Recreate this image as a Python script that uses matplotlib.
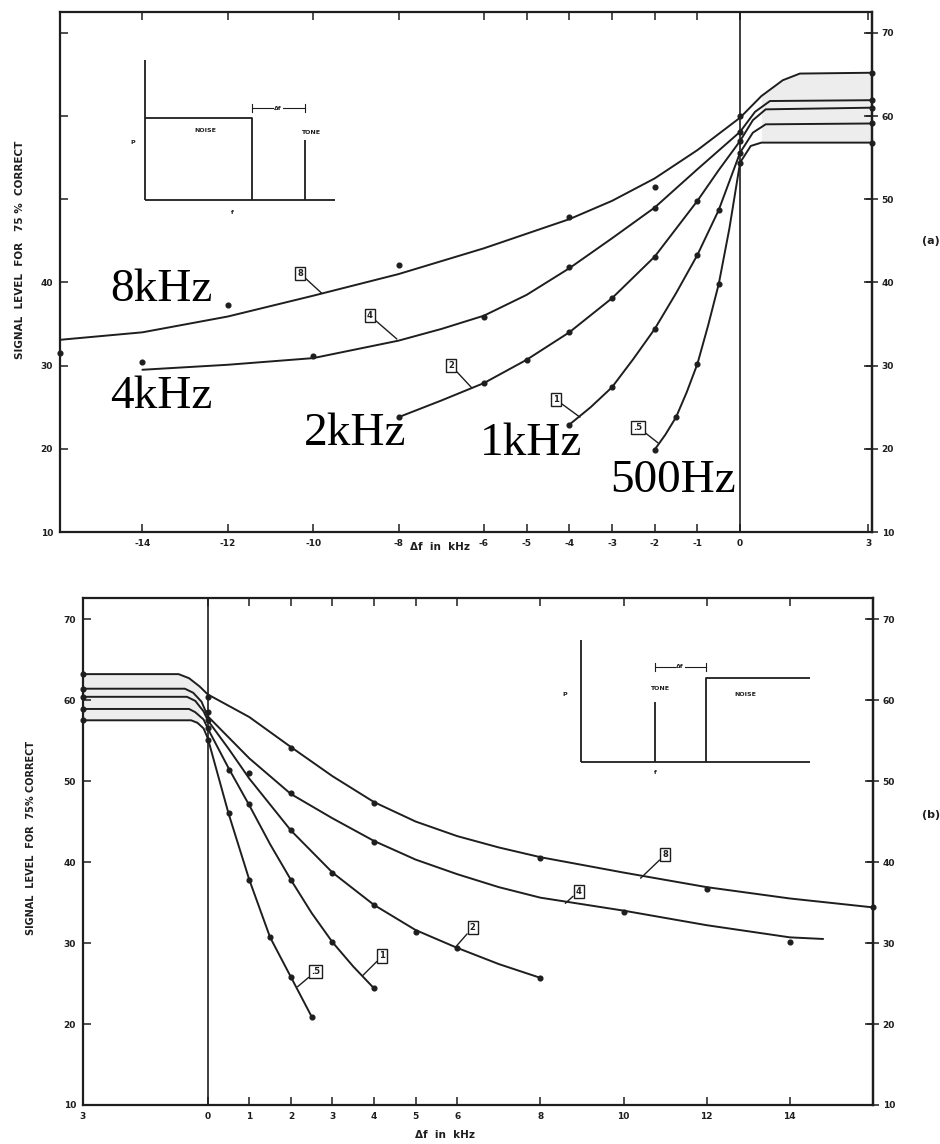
import numpy as np
import matplotlib
matplotlib.use('Agg')
import matplotlib.pyplot as plt

# ---------------- DATA ----------------
# Panel (a): tone below noise (negative delta f)
a_xlim = (-15.93, 3.09)
a_ylim = (10, 72.5)
a_xticks = [-14, -12, -10, -8, -6, -5, -4, -3, -2, -1, 0, 3]
a_xticklabels = ['-14', '-12', '-10', '-8', '-6', '-5', '-4', '-3', '-2', '-1', '0', '3']
a_yticks = [10, 20, 30, 40, 50, 60, 70]
a_left_labels = ['10', '20', '30', '40', '', '', '']
a_right_labels = ['10', '20', '30', '40', '50', '60', '70']

# fitted curves
a8_cx = [-15.93, -14, -12, -10, -8, -6, -4, -3, -2, -1, 0, 0.5, 1.0, 1.4, 3.09]
a8_cy = [33.1, 34.0, 35.9, 38.4, 41.0, 44.1, 47.6, 49.8, 52.5, 55.9, 59.8, 62.4, 64.3, 65.1, 65.2]
a4_cx = [-14, -12, -10, -8, -7, -6, -5, -4, -3, -2, -1, 0, 0.35, 0.7, 3.09]
a4_cy = [29.5, 30.1, 30.9, 33.0, 34.4, 36.0, 38.5, 41.7, 45.3, 49.0, 53.6, 58.1, 60.5, 61.8, 61.9]
a2_cx = [-8, -7, -6, -5, -4, -3, -2, -1, -0.5, 0, 0.3, 0.6, 3.09]
a2_cy = [23.8, 25.8, 27.9, 30.7, 34.0, 38.1, 43.1, 49.8, 53.5, 57.0, 59.5, 60.8, 61.0]
a1_cx = [-4, -3.5, -3, -2.5, -2, -1.5, -1, -0.5, 0, 0.3, 0.6, 3.09]
a1_cy = [22.9, 25.0, 27.4, 30.8, 34.4, 38.7, 43.3, 48.7, 55.6, 58.0, 59.0, 59.1]
a5_cx = [-2, -1.75, -1.5, -1.25, -1, -0.75, -0.5, -0.25, 0, 0.25, 0.5, 3.09]
a5_cy = [19.9, 21.7, 23.8, 26.8, 30.2, 34.8, 39.8, 46.5, 54.4, 56.4, 56.8, 56.8]

# measured points
a8_px = [-15.93, -12, -8, -4, -2, 0, 3.09]
a8_py = [31.5, 37.3, 42.1, 47.9, 51.5, 60.0, 65.2]
a4_px = [-14, -10, -6, -4, -2, 0, 3.09]
a4_py = [30.4, 31.2, 35.8, 41.9, 49.0, 58.1, 61.9]
a2_px = [-8, -6, -5, -4, -3, -2, -1, 0, 3.09]
a2_py = [23.8, 27.9, 30.7, 34.0, 38.1, 43.1, 49.8, 57.0, 61.0]
a1_px = [-4, -3, -2, -1, -0.5, 0, 3.09]
a1_py = [22.9, 27.4, 34.4, 43.3, 48.7, 55.6, 59.1]
a5_px = [-2, -1.5, -1, -0.5, 0, 3.09]
a5_py = [19.9, 23.8, 30.2, 39.8, 54.4, 56.8]

# Panel (b): tone above noise (positive delta f)
b_xlim = (-3, 16)
b_ylim = (10, 72.6)
b_xticks = [-3, 0, 1, 2, 3, 4, 5, 6, 8, 10, 12, 14]
b_xticklabels = ['3', '0', '1', '2', '3', '4', '5', '6', '8', '10', '12', '14']
b_yticks = [10, 20, 30, 40, 50, 60, 70]
b_labels = ['10', '20', '30', '40', '50', '60', '70']

b8_cx = [-3, -0.7, -0.45, -0.2, 0, 1, 2, 3, 4, 5, 6, 7, 8, 10, 12, 14, 16]
b8_cy = [63.2, 63.2, 62.7, 61.7, 60.7, 57.9, 54.2, 50.6, 47.4, 45.0, 43.2, 41.8, 40.6, 38.7, 36.9, 35.5, 34.4]
b4_cx = [-3, -0.55, -0.35, -0.15, 0, 1, 2, 3, 4, 5, 6, 7, 8, 10, 12, 14, 14.8]
b4_cy = [61.4, 61.4, 60.9, 59.8, 58.0, 52.8, 48.4, 45.4, 42.6, 40.3, 38.5, 36.9, 35.6, 34.0, 32.2, 30.7, 30.5]
b2_cx = [-3, -0.5, -0.3, -0.1, 0, 0.5, 1, 2, 3, 4, 5, 6, 7, 8]
b2_cy = [60.4, 60.4, 59.9, 58.6, 57.5, 54.0, 50.3, 43.9, 38.7, 34.7, 31.6, 29.4, 27.4, 25.7]
b1_cx = [-3, -0.45, -0.3, -0.1, 0, 0.5, 1, 1.5, 2, 2.5, 3, 3.5, 4]
b1_cy = [58.9, 58.9, 58.5, 57.6, 56.5, 51.6, 47.0, 42.2, 37.8, 33.7, 30.1, 27.1, 24.4]
b5_cx = [-3, -0.4, -0.25, -0.1, 0, 0.5, 1, 1.5, 2, 2.5]
b5_cy = [57.5, 57.5, 57.2, 56.5, 55.3, 46.0, 37.8, 30.7, 25.8, 20.9]

b8_px = [-3, 0, 2, 4, 8, 12, 16]
b8_py = [63.2, 60.4, 54.1, 47.3, 40.5, 36.7, 34.4]
b4_px = [-3, 0, 2, 4, 10, 14]
b4_py = [61.4, 58.5, 48.5, 42.5, 33.8, 30.1]
b2_px = [-3, 0, 1, 2, 3, 4, 5, 6, 8]
b2_py = [60.4, 57.5, 51.0, 43.9, 38.6, 34.7, 31.4, 29.4, 25.7]
b1_px = [-3, 0, 0.5, 1, 2, 3, 4]
b1_py = [58.9, 56.5, 51.4, 47.2, 37.8, 30.1, 24.4]
b5_px = [-3, 0, 0.5, 1, 1.5, 2, 2.5]
b5_py = [57.5, 55.1, 46.0, 37.8, 30.7, 25.8, 20.9]

box_labels = ['8', '4', '2', '1', '.5']
big_labels = ['8kHz', '4kHz', '2kHz', '1kHz', '500Hz']

# ---------------- LAYOUT / STYLE ----------------
W, H = 940, 1144
INK = '#1e1e1e'
TICKFONT = dict(family='DejaVu Sans', weight='bold', size=6.5)

fig = plt.figure(figsize=(W / 100, H / 100), dpi=100)
fig.patch.set_facecolor('white')


def fx(px):
    return px / W


def fy(py):
    return 1 - py / H


def style_axes(ax, xlim, ylim, xticks, xlabels, yticks, leftlabels, rightlabels):
    ax.set_xlim(*xlim)
    ax.set_ylim(*ylim)
    for s in ax.spines.values():
        s.set_linewidth(1.6)
        s.set_color(INK)
    ax.set_xticks(xticks)
    ax.set_xticklabels(xlabels, fontdict=TICKFONT)
    ax.set_yticks(yticks)
    ax.set_yticklabels(leftlabels, fontdict=TICKFONT)
    ax.tick_params(direction='in', length=6, width=1.1, colors=INK,
                   top=True, right=True, pad=5)
    axr = ax.secondary_yaxis('right')
    axr.set_yticks(yticks)
    axr.set_yticklabels(rightlabels, fontdict=TICKFONT)
    axr.tick_params(direction='inout', length=8, width=1.1, colors=INK, pad=3)
    axr.spines['right'].set_linewidth(1.6)
    ax.axvline(0, color=INK, lw=1.2, zorder=1)


def draw_curves(ax, curves, points):
    for cx, cy in curves:
        ax.plot(cx, cy, color=INK, lw=1.4, solid_capstyle='round',
                solid_joinstyle='round', zorder=3)
    for px, py in points:
        ax.plot(px, py, 'o', color=INK, ms=3.4, zorder=4, clip_on=False)


def boxes(ax, xy_list, txt_list):
    for lab, xy, xt in zip(box_labels, xy_list, txt_list):
        ax.annotate(lab, xy=xy, xytext=xt, ha='center', va='center',
                    fontsize=6, fontweight='bold', color=INK,
                    bbox=dict(boxstyle='square,pad=0.25', fc='white', ec=INK, lw=1.0),
                    arrowprops=dict(arrowstyle='-', color=INK, lw=1.0,
                                    shrinkA=0, shrinkB=0), zorder=5)


# ---------- Panel (a) ----------
axa = fig.add_axes([fx(60), fy(532), fx(872 - 60), (532 - 12) / H])
style_axes(axa, a_xlim, a_ylim, a_xticks, a_xticklabels, a_yticks, a_left_labels, a_right_labels)
xs = np.array(a8_cx)
mask = xs >= 0.15
axa.fill_between(xs[mask], np.array(a8_cy)[mask], np.interp(xs[mask], a5_cx, a5_cy),
                 color='#ededed', zorder=0, lw=0)
draw_curves(axa,
            [(a8_cx, a8_cy), (a4_cx, a4_cy), (a2_cx, a2_cy), (a1_cx, a1_cy), (a5_cx, a5_cy)],
            [(a8_px, a8_py), (a4_px, a4_py), (a2_px, a2_py), (a1_px, a1_py), (a5_px, a5_py)])
boxes(axa,
      [(-9.8, 38.7), (-8.04, 33.2), (-6.28, 27.3), (-3.75, 23.8), (-1.92, 20.7)],
      [(-10.31, 41.1), (-8.67, 36.0), (-6.77, 30.0), (-4.31, 25.9), (-2.39, 22.6)])
fig.text(fx(20), fy(250), 'SIGNAL  LEVEL  FOR   75 %  CORRECT', rotation=90,
         ha='center', va='center', fontsize=7.5, fontweight='bold', color=INK)
fig.text(fx(440), fy(547), '\u0394f  in  kHz', ha='center', va='center',
         fontsize=7.5, fontweight='bold', color=INK)
fig.text(fx(922), fy(241), '(a)', ha='left', va='center', fontsize=8,
         fontweight='bold', color=INK)

# ---------- Panel (b) ----------
axb = fig.add_axes([fx(83), fy(1105), fx(873 - 83), (1105 - 598) / H])
style_axes(axb, b_xlim, b_ylim, b_xticks, b_xticklabels, b_yticks, b_labels, b_labels)
xs = np.array(b8_cx)
mask = xs <= -0.15
axb.fill_between(xs[mask], np.array(b8_cy)[mask], np.interp(xs[mask], b5_cx, b5_cy),
                 color='#ededed', zorder=0, lw=0)
draw_curves(axb,
            [(b8_cx, b8_cy), (b4_cx, b4_cy), (b2_cx, b2_cy), (b1_cx, b1_cy), (b5_cx, b5_cy)],
            [(b8_px, b8_py), (b4_px, b4_py), (b2_px, b2_py), (b1_px, b1_py), (b5_px, b5_py)])
boxes(axb,
      [(10.41, 38.0), (8.6, 34.9), (5.96, 29.5), (3.73, 26.0), (2.16, 24.6)],
      [(11.0, 40.9), (8.92, 36.4), (6.37, 31.9), (4.2, 28.4), (2.6, 26.5)])
fig.text(fx(31), fy(838), 'SIGNAL  LEVEL  FOR  75% CORRECT', rotation=90,
         ha='center', va='center', fontsize=7, fontweight='bold', color=INK)
fig.text(fx(445), fy(1135), '\u0394f  in  kHz', ha='center', va='center',
         fontsize=7.5, fontweight='bold', color=INK)
fig.text(fx(922), fy(815), '(b)', ha='left', va='center', fontsize=8,
         fontweight='bold', color=INK)

# ---------- big frequency labels ----------
big_pos = [(110, 301), (110, 408), (304, 445), (480, 455), (610, 492)]
for lab, (px, py) in zip(big_labels, big_pos):
    fig.text(fx(px), fy(py), lab, ha='left', va='baseline',
             family='Liberation Serif', fontsize=34, color='black')

# ---------- schematic insets (pixel overlay) ----------
ov = fig.add_axes([0, 0, 1, 1], zorder=10)
ov.set_xlim(0, W)
ov.set_ylim(H, 0)
ov.axis('off')
ov.patch.set_alpha(0)
lk = dict(color=INK, lw=1.3, solid_capstyle='butt')
small = dict(fontsize=4.5, fontweight='bold', color=INK, ha='center', va='center')

# inset (a): noise then tone
ov.plot([145, 145], [60, 200], **lk)
ov.plot([145, 335], [200, 200], **lk)
ov.plot([145, 252, 252], [118, 118, 200], **lk)
ov.plot([305, 305], [140, 200], **lk)
ov.plot([252, 305], [108, 108], color=INK, lw=0.8)
ov.plot([252, 252], [104, 112], color=INK, lw=0.8)
ov.plot([305, 305], [104, 112], color=INK, lw=0.8)
ov.text(278, 108, '\u0394f', bbox=dict(fc='white', ec='none', pad=0.5), **small)
ov.text(205, 131, 'NOISE', **small)
ov.text(311, 132, 'TONE', **small)
ov.text(133, 142, 'P', **small)
ov.text(232, 213, 'f', **small)

# inset (b): tone then noise
ov.plot([581, 581], [640, 762], **lk)
ov.plot([581, 810], [762, 762], **lk)
ov.plot([655, 655], [702, 762], **lk)
ov.plot([706, 706, 810], [762, 678, 678], **lk)
ov.plot([655, 706], [667, 667], color=INK, lw=0.8)
ov.plot([655, 655], [663, 671], color=INK, lw=0.8)
ov.plot([706, 706], [663, 671], color=INK, lw=0.8)
ov.text(680, 667, '\u0394f', bbox=dict(fc='white', ec='none', pad=0.5), **small)
ov.text(660, 689, 'TONE', **small)
ov.text(745, 694, 'NOISE', **small)
ov.text(565, 694, 'P', **small)
ov.text(655, 773, 'f', **small)

fig.savefig('out.png', dpi=100, facecolor='white')
